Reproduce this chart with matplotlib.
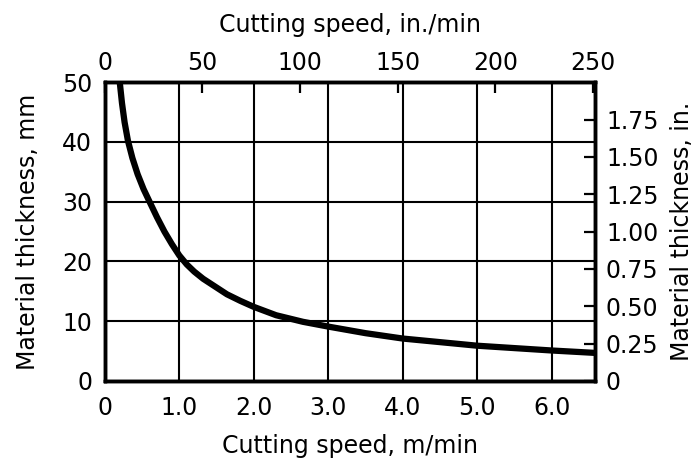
import matplotlib
matplotlib.use('Agg')
import matplotlib.pyplot as plt
import numpy as np

# curve (m/min, mm)
speed = [0.20, 0.23, 0.265, 0.31, 0.37, 0.44, 0.52, 0.60, 0.70, 0.80,
         0.90, 1.00, 1.10, 1.20, 1.32, 1.48, 1.64, 1.82, 2.00, 2.30, 2.66,
         3.00, 3.50, 4.00, 4.50, 5.00, 5.50, 6.00, 6.58]
thick = [50, 46.5, 43.3, 40.2, 37.3, 34.6, 32.1, 30, 27.4, 25,
         22.9, 21.0, 19.5, 18.3, 17.1, 15.8, 14.5, 13.4, 12.4, 11.0, 9.9,
         9.1, 8.0, 7.1, 6.5, 5.9, 5.5, 5.1, 4.7]

x_ticks = [0, 1, 2, 3, 4, 5, 6]
x_labels = ['0', '1.0', '2.0', '3.0', '4.0', '5.0', '6.0']
y_ticks = [0, 10, 20, 30, 40, 50]
top_ticks = [0, 50, 100, 150, 200, 250]
right_ticks = [0, 0.25, 0.5, 0.75, 1.0, 1.25, 1.5, 1.75]
right_labels = ['0', '0.25', '0.50', '0.75', '1.00', '1.25', '1.50', '1.75']

plt.rcParams['font.family'] = ['DejaVu Sans']
fs = 17

fig = plt.figure(figsize=(6.99, 4.59), dpi=100)
ax = fig.add_axes([0.150, 0.170, 0.701, 0.651])

ax.plot(speed, thick, color='black', lw=4.5, solid_capstyle='butt',
        solid_joinstyle='round')
ax.set_xlim(0, 6.58)
ax.set_ylim(0, 50)
ax.set_xticks(x_ticks)
ax.set_xticklabels(x_labels)
ax.set_yticks(y_ticks)
ax.grid(True, color='black', lw=1.5)
ax.tick_params(length=0, labelsize=fs, colors='black')
ax.tick_params(axis='x', pad=11)
ax.tick_params(axis='y', pad=9)
ax.set_xlabel('Cutting speed, m/min', fontsize=fs, labelpad=10)
ax.set_ylabel('Material thickness, mm', fontsize=fs, labelpad=16)
for s in ax.spines.values():
    s.set_linewidth(2.4)

top = ax.twiny()
top.set_xlim(0, 251)
top.set_xticks(top_ticks)
top.tick_params(direction='in', length=8, width=1.6, labelsize=fs, pad=5)
top.set_xlabel('Cutting speed, in./min', fontsize=fs, labelpad=14)

right = ax.twinx()
right.set_ylim(0, 2.0)
right.set_yticks(right_ticks)
right.set_yticklabels(right_labels)
right.tick_params(direction='in', length=8, width=1.6, labelsize=fs, pad=8)
right.set_ylabel('Material thickness, in.', fontsize=fs, labelpad=8)

for a in (top, right):
    for s in a.spines.values():
        s.set_linewidth(2.4)

fig.savefig('out.png', dpi=100)
